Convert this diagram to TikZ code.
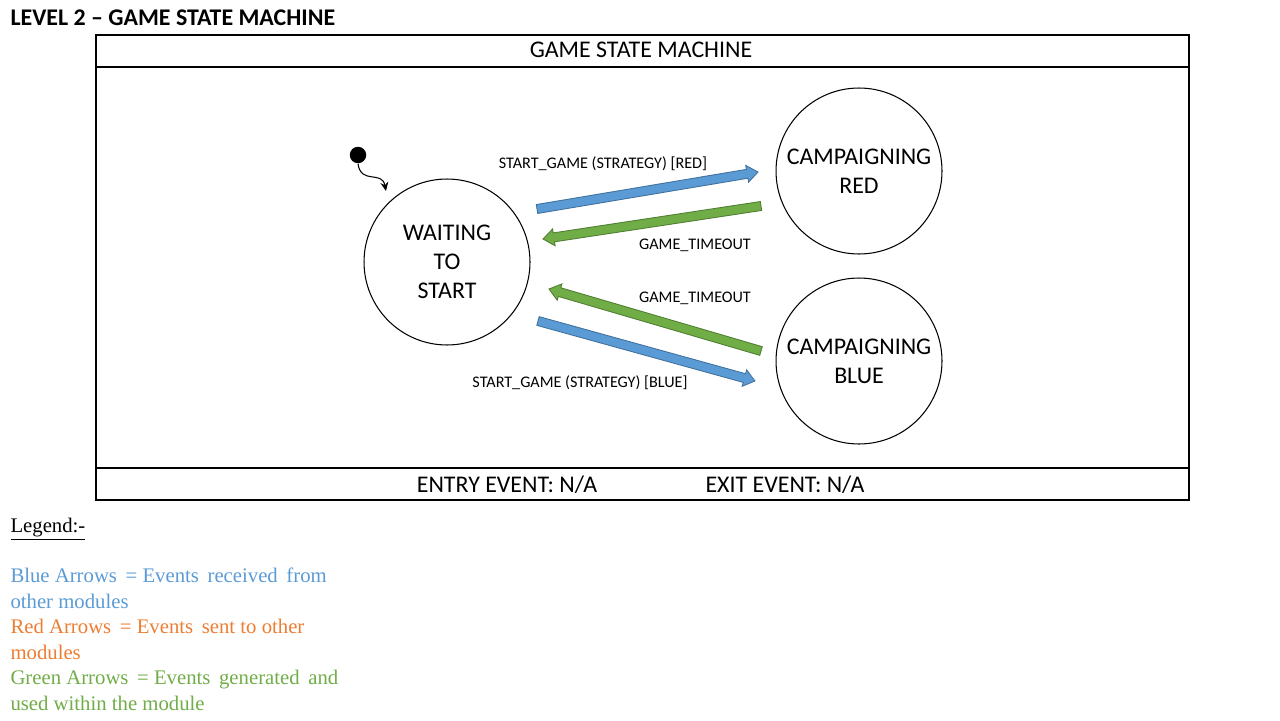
\documentclass[tikz,border=0pt]{standalone}
\usepackage{fontspec}
\setmainfont{Carlito}
\newfontfamily\legendfont{Liberation Serif}
\usetikzlibrary{calc,arrows.meta}
\definecolor{evblue}{HTML}{5B9BD5}
\definecolor{evblueline}{HTML}{41719C}
\definecolor{evgreen}{HTML}{70AD47}
\definecolor{evgreenline}{HTML}{507E32}
\definecolor{evred}{HTML}{ED7D31}
% block arrow: start, end, colour
\newcommand\eventarrow[3]{%
  \coordinate (h) at ($(#2)!0.22cm!(#1)$);
  \filldraw[fill=#3, draw=#3line, line width=0.5pt]
    ($(#1)!0.09cm!90:(#2)$) -- ($(h)!0.09cm!-90:(#1)$) -- ($(h)!0.17cm!-90:(#1)$) -- (#2)
    -- ($(h)!0.17cm!90:(#1)$) -- ($(h)!0.09cm!90:(#1)$) -- ($(#1)!0.09cm!-90:(#2)$) -- cycle;}
\tikzset{
  state/.style={draw, circle, line width=0.6pt, minimum size=3.32cm, align=center,
    font=\fontsize{13.6}{16.4}\selectfont},
  bigtext/.style={anchor=base, inner sep=0pt, font=\fontsize{13.6}{16.4}\selectfont},
  evlabel/.style={anchor=base, inner sep=0pt, font=\fontsize{9.2}{11}\selectfont},
  legend/.style={anchor=base west, inner sep=0pt, align=left,
    font=\legendfont\fontsize{11.8}{14.5}\selectfont},
}

\begin{document}
\begin{tikzpicture}[x=0.02cm, y=-0.02cm, line width=0.6pt]
    \useasboundingbox (0,0) rectangle (1280,720);
    \node[anchor=base west, inner sep=0pt, font=\bfseries\fontsize{13.6}{16.4}\selectfont]
      (title) at (10,26) {LEVEL 2 -- GAME STATE MACHINE};
    % frame
    \draw (96,35) rectangle (1189,500);
    \draw (96,67) -- (1189,67);
    \draw (96,468) -- (1189,468);
    \node[bigtext] (head) at (641,57) {GAME STATE MACHINE};
    \node[bigtext] (entry) at (507,492) {ENTRY EVENT: N/A};
    \node[bigtext] (exit) at (785,492) {EXIT EVENT: N/A};
    % states
    \node[state] (wait) at (447,262) {WAITING\\TO\\START};
    \node[state] (campred) at (859,171) {CAMPAIGNING\\RED};
    \node[state] (campblue) at (859,361) {CAMPAIGNING\\BLUE};
    \node[circle, fill, inner sep=0pt, minimum size=0.33cm] (init) at (358,155) {};
    \coordinate (initend) at (386,191);
    \draw[-{Stealth[length=5pt,width=4.5pt]}] (init.south) .. controls (361,185) and (382,170) .. (initend);
    % transitions
    \coordinate (redgo-s) at (537,209);
    \coordinate (redgo-e) at (758,172);
    \coordinate (redout-s) at (761,206);
    \coordinate (redout-e) at (543,239);
    \coordinate (blueout-s) at (761,351);
    \coordinate (blueout-e) at (549,289);
    \coordinate (bluego-s) at (538,321);
    \coordinate (bluego-e) at (755,381);
    \eventarrow{redgo-s}{redgo-e}{evblue}
    \eventarrow{redout-s}{redout-e}{evgreen}
    \eventarrow{blueout-s}{blueout-e}{evgreen}
    \eventarrow{bluego-s}{bluego-e}{evblue}
    \node[evlabel] (redgo) at (603,168) {START\_GAME (STRATEGY) [RED]};
    \node[evlabel] (redout) at (695,249) {GAME\_TIMEOUT};
    \node[evlabel] (blueout) at (695,302) {GAME\_TIMEOUT};
    \node[evlabel] (bluego) at (580,387) {START\_GAME (STRATEGY) [BLUE]};
    % legend (base = last line)
    \node[legend] (leg) at (10,532) {\underline{Legend:-}};
    \node[legend, text=evblue] (legblue) at (10,608) {Blue Arrows \,= Events \,received \,from\\other modules};
    \node[legend, text=evred] (legred) at (10,659) {Red Arrows \,= Events \,sent to other\\modules};
    \node[legend, text=evgreen] (leggreen) at (10,710) {Green Arrows \,= Events \,generated \,and\\used within the module};
\end{tikzpicture}
\end{document}
